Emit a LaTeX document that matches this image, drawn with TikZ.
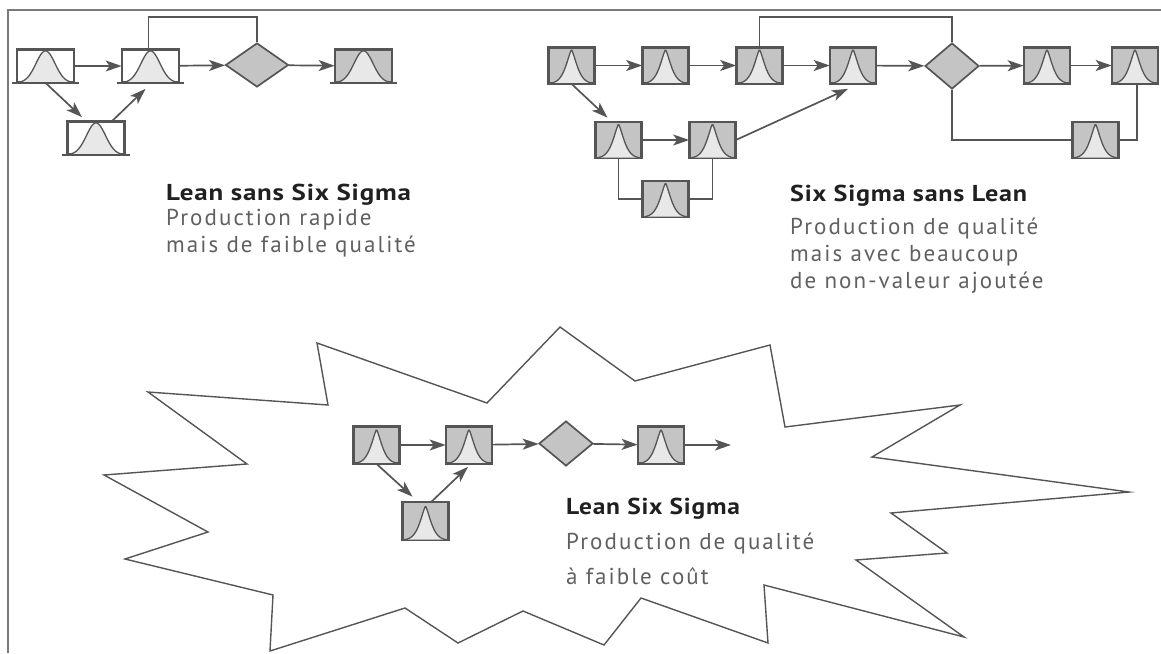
\documentclass[tikz,border=0pt]{standalone}
\usepackage{fontspec}
\usepackage{graphicx}
\setmainfont{PT Sans}
\newfontfamily\dscfont{PT Sans}[LetterSpace=9]
\newfontfamily\ttlfont{PT Sans Bold}[LetterSpace=3]
\newsavebox\refbox
\newcommand\fitttl[3]{\sbox\refbox{\fontsize{23}{25}\dscfont #2}\resizebox{#1\wd\refbox}{\height}{#3}}
\usetikzlibrary{arrows.meta,shapes.geometric}
\definecolor{ln}{HTML}{555555}
\definecolor{bx}{HTML}{C4C4C4}
\definecolor{bl}{HTML}{E8E8E8}
\definecolor{tx}{HTML}{202020}
\definecolor{ds}{HTML}{606060}
\definecolor{fr}{HTML}{7A7A7A}
\begin{document}
\begin{tikzpicture}[x=1pt,y=-1pt,
  wbox/.style={draw=ln,line width=1.7pt,fill=white,rectangle,minimum width=56pt,minimum height=32pt,inner sep=0pt},
  wgbox/.style={wbox,fill=bx},
  gbox/.style={draw=ln,line width=1.7pt,fill=bx,rectangle,minimum width=45pt,minimum height=35pt,inner sep=0pt},
  dec/.style={draw=ln,line width=1.7pt,fill=bx,diamond,inner sep=0pt},
  conn/.style={draw=ln,line width=1.7pt},
  arr/.style={conn,-{Stealth[length=16pt,width=11pt,inset=4pt]}},
  ttl/.style={anchor=base west,inner sep=0pt,text=tx,font=\fontsize{23}{25}\ttlfont},
  dsc/.style={anchor=base west,inner sep=0pt,text=ds,font=\fontsize{23}{25}\dscfont},
  bellline/.style={draw=ln,line width=1.3pt}
]
\useasboundingbox (0,0) rectangle (1161,653);
% frame
\draw[fr,line width=1.5pt] (8,653) -- (8,10) -- (1161,10);

% star
\draw[ln,line width=1.4pt,line join=miter]
 (560,327) -- (635,381) -- (770,345) -- (785,427) -- (960,405) -- (872,457)
 -- (1129,492) -- (891,513) -- (947,553) -- (856,560) -- (964,637) -- (764,585)
 -- (768,643) -- (641,598) -- (604,645) -- (523,611) -- (458,643) -- (405,608)
 -- (270,651) -- (273,595) -- (125,559) -- (208,532) -- (104,475) -- (247,464)
 -- (148,392) -- (328,405) -- (317,343) -- (487,403) -- cycle;

% ---------- top left ----------
\node[wbox] (A) at (45.5,66) {};
\node[wbox] (B) at (150.5,66) {};
\node[wbox] (C) at (96,138) {};
\node[wgbox] (D) at (363.5,66) {};
\node[dec,minimum width=63pt,minimum height=44pt] (d1) at (257,65) {};

\foreach \n in {A,B,C,D}{
  \begin{scope}[shift={(\n.south)}]
    \fill[bl] plot[domain=-28:28,samples=60,smooth] (\x,{-32*exp(-(\x*\x)/180)}) -- cycle;
    \draw[bellline] plot[domain=-28:28,samples=60,smooth] (\x,{-32*exp(-(\x*\x)/180)});
  \end{scope}
  \draw[ln,line width=1.7pt] (\n.north west) rectangle (\n.south east);
  \draw[ln,line width=1.7pt] ([xshift=-5pt]\n.south west) -- ([xshift=5pt]\n.south east);
}

\draw[arr] (A) -- (B);
\draw[arr] (B) -- (d1);
\draw[arr] (d1) -- (D);
\draw[arr] (A.south) -- ([xshift=-14pt,yshift=4pt]C.north);
\draw[arr] ([xshift=16pt]C.north) -- ([xshift=-5pt,yshift=-6pt]B.south);
\draw[conn] ([xshift=-2pt]B.north) -- ++(0,-32) -| (d1.north);

% ---------- top right ----------
\node[gbox] (R1) at (571.5,65.5) {};
\node[gbox] (R2) at (665.5,65.5) {};
\node[gbox] (R3) at (759.5,65.5) {};
\node[gbox] (R4) at (853,65.5) {};
\node[dec,minimum width=54pt,minimum height=46pt] (d2) at (952,66) {};
\node[gbox] (R5) at (1047,65.5) {};
\node[gbox] (R6) at (1135,65.5) {};
\node[gbox] (R7) at (1095.5,140) {};
\node[gbox] (L1) at (618.5,140) {};
\node[gbox] (L2) at (712.5,140) {};
\node[gbox] (L3) at (665.5,199) {};

% ---------- bottom ----------
\node[gbox,minimum height=36pt] (B1) at (376.5,445) {};
\node[gbox,minimum height=36pt] (B2) at (469,445) {};
\node[dec,minimum width=54pt,minimum height=45pt] (d3) at (566,443.5) {};
\node[gbox,minimum height=36pt] (B3) at (661,445) {};
\node[gbox,minimum height=37pt] (B4) at (425.5,521) {};
\coordinate (Bout) at (731,445);

\foreach \n in {R1,R2,R3,R4,R5,R6,R7,L1,L2,L3,B1,B2,B3,B4}{
  \begin{scope}[shift={(\n.south)}]
    \fill[bl] plot[domain=-21:21,samples=80,smooth] (\x,{-34*exp(-((abs(\x)+0.001)/7.8)^1.4)}) -- cycle;
    \draw[bellline] plot[domain=-21:21,samples=80,smooth] (\x,{-34*exp(-((abs(\x)+0.001)/7.8)^1.4)});
  \end{scope}
  \draw[ln,line width=1.7pt] (\n.north west) rectangle (\n.south east);
}

\draw[arr] (R1) -- (R2);
\draw[arr] (R2) -- (R3);
\draw[arr] (R3) -- (R4);
\draw[arr] (R4) -- (d2);
\draw[arr] (d2) -- (R5);
\draw[arr] (R5) -- (R6);
\draw[arr] (R1.south) -- ([xshift=-11pt,yshift=4pt]L1.north);
\draw[arr] (L1) -- (L2);
\draw[arr] (L2.east) -- ([xshift=-5pt,yshift=-5pt]R4.south);
\draw[conn] (L1.south) |- (L3.west);
\draw[conn] (L3.east) -| (L2.south);
\draw[conn] (R3.north) -- ++(0,-30) -| (d2.north);
\draw[conn] (d2.south) |- (R7.west);
\draw[conn] (R7.east) -| ([xshift=2pt]R6.south);

\draw[arr] (B1) -- (B2);
\draw[arr] (B2) -- (d3);
\draw[arr] (d3) -- (B3);
\draw[arr] (B3) -- (Bout);
\draw[arr] (B1.south) -- ([xshift=-13pt,yshift=5pt]B4.north);
\draw[arr] ([xshift=6pt]B4.north) -- ([xshift=-1pt,yshift=-3pt]B2.south);

% ---------- texts ----------
\node[ttl] (t1) at (166,200) {\fitttl{0.98}{mais de faible qualité}{Lean sans Six Sigma}};
\node[dsc] (t1b) at (166,225) {Production rapide};
\node[dsc] (t1c) at (166,252) {mais de faible qualité};

\node[ttl] (t2) at (790,201) {\fitttl{0.955}{Production de qualité}{Six Sigma sans Lean}};
\node[dsc] (t2b) at (790,234) {Production de qualité};
\node[dsc] (t2c) at (790,261) {mais avec beaucoup};
\node[dsc] (t2d) at (790,288) {de non-valeur ajoutée};

\node[ttl] (t3) at (566,514) {\fitttl{0.70}{Production de qualité}{Lean Six Sigma}};
\node[dsc] (t3b) at (566,549) {Production de qualité};
\node[dsc] (t3c) at (566,584) {à faible coût};
\end{tikzpicture}
\end{document}
